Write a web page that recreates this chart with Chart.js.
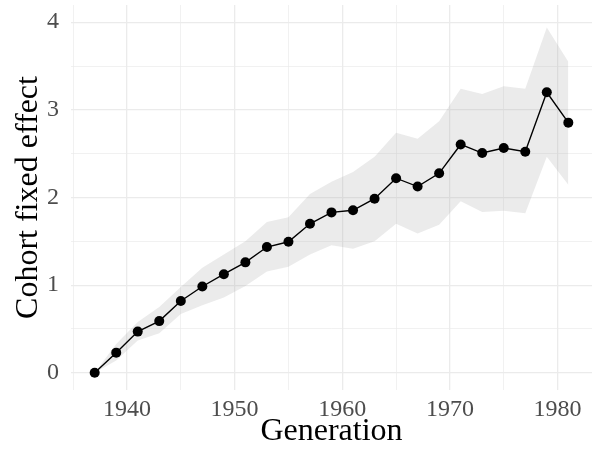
<!DOCTYPE html>
<html><head><meta charset="utf-8">
<script src="https://cdn.jsdelivr.net/npm/chart.js@4/dist/chart.umd.min.js"></script>
<style>html,body{margin:0;padding:0;background:#fff;}canvas{display:block;}</style>
</head><body>
<canvas id="c" width="597" height="451"></canvas>
<script>
const years = [1937,1939,1941,1943,1945,1947,1949,1951,1953,1955,1957,1959,1961,1963,1965,1967,1969,1971,1973,1975,1977,1979,1981];
const estimate = [0.00,0.23,0.47,0.59,0.82,0.985,1.125,1.26,1.435,1.495,1.70,1.83,1.854,1.986,2.22,2.125,2.276,2.605,2.507,2.564,2.522,3.20,2.854];
const upper = [0.00,0.33,0.58,0.75,0.98,1.20,1.35,1.50,1.72,1.775,2.04,2.18,2.29,2.465,2.74,2.67,2.87,3.24,3.18,3.27,3.24,3.94,3.55];
const lower = [0.00,0.14,0.37,0.45,0.67,0.77,0.86,0.99,1.155,1.21,1.35,1.455,1.415,1.50,1.70,1.59,1.69,1.956,1.835,1.85,1.82,2.465,2.145];
const xTicks = [1935,1940,1945,1950,1955,1960,1965,1970,1975,1980];
const yTicks = [0,0.5,1,1.5,2,2.5,3,3.5,4];
const xTitle = 'Generation';
const yTitle = 'Cohort fixed effect';

const pts = arr => years.map((y,i)=>({x:y,y:arr[i]}));
const serif = "'Liberation Serif', 'DejaVu Serif', serif";

new Chart(document.getElementById('c'), {
  type: 'line',
  data: { datasets: [
    { data: pts(estimate), borderColor:'#000', borderWidth:1.4, pointRadius:5, pointBackgroundColor:'#000', pointBorderWidth:0, fill:false, tension:0 },
    { data: pts(lower), borderWidth:0, pointRadius:0, fill:false, borderColor:'rgba(0,0,0,0)' },
    { data: pts(upper), borderWidth:0, pointRadius:0, fill:'-1', borderColor:'rgba(0,0,0,0)', backgroundColor:'rgba(153,153,153,0.2)' }
  ]},
  options: {
    responsive:false, devicePixelRatio:1, animation:false,
    layout:{ padding:{ top:2, right:2, left:0, bottom:0 } },
    plugins:{ legend:{display:false}, tooltip:{enabled:false} },
    scales:{
      x:{ type:'linear', min:1934.8, max:1983.2,
        afterBuildTicks: s => { s.ticks = xTicks.map(v=>({value:v})); },
        afterFit: s => { s.height = 61; s.paddingLeft=0; s.paddingRight=0; s.paddingTop=0; s.paddingBottom=0; },
        grid:{ color:'#EBEBEB', drawTicks:false, lineWidth: c => (c.tick && c.tick.value % 10 === 0) ? 1.3 : 0.7 },
        border:{ display:false },
        ticks:{ autoSkip:false, maxRotation:0, padding:5, color:'#4D4D4D', font:{family:serif, size:24},
          callback: v => (v % 10 === 0) ? String(v) : '' },
        title:{ display:true, text:xTitle, color:'#000', font:{family:serif, size:32}, padding:{top:0,bottom:0} }
      },
      y:{ type:'linear', min:-0.196, max:4.196,
        afterBuildTicks: s => { s.ticks = yTicks.map(v=>({value:v})); },
        afterFit: s => { s.width = 71; s.paddingLeft=0; s.paddingRight=0; s.paddingTop=0; s.paddingBottom=0; },
        grid:{ color:'#EBEBEB', drawTicks:false, lineWidth: c => (c.tick && c.tick.value % 1 === 0) ? 1.3 : 0.7 },
        border:{ display:false },
        ticks:{ padding:12, color:'#4D4D4D', font:{family:serif, size:24},
          callback: v => (v % 1 === 0) ? String(v) : '' },
        title:{ display:true, text:yTitle, color:'#000', font:{family:serif, size:32}, padding:{top:9,bottom:0} }
      }
    }
  }
});
</script>
</body></html>
